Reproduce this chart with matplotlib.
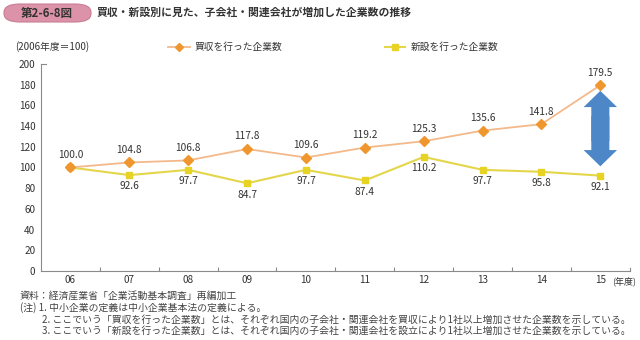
import matplotlib
matplotlib.use("Agg")
import matplotlib.pyplot as plt
from matplotlib.patches import FancyBboxPatch

plt.rcParams['font.family'] = ['Noto Sans CJK JP', 'DejaVu Sans']

years = ["06", "07", "08", "09", "10", "11", "12", "13", "14", "15"]
acquisition = [100.0, 104.8, 106.8, 117.8, 109.6, 119.2, 125.3, 135.6, 141.8, 179.5]
establishment = [100.0, 92.6, 97.7, 84.7, 97.7, 87.4, 110.2, 97.7, 95.8, 92.1]
y_ticks = [0, 20, 40, 60, 80, 100, 120, 140, 160, 180, 200]

series_names = ["買収を行った企業数", "新設を行った企業数"]
fig_label = "第2-6-8図"
title = "買収・新設別に見た、子会社・関連会社が増加した企業数の推移"
base_note = "(2006年度＝100)"
unit_note = "(年度)"
notes = [
    "資料：経済産業省「企業活動基本調査」再編加工",
    "(注) 1. 中小企業の定義は中小企業基本法の定義による。",
    "2. ここでいう「買収を行った企業数」とは、それぞれ国内の子会社・関連会社を買収により1社以上増加させた企業数を示している。",
    "3. ここでいう「新設を行った企業数」とは、それぞれ国内の子会社・関連会社を設立により1社以上増加させた企業数を示している。",
]
note_x = [20, 20, 42, 42]

orange_line = "#f3b98a"
orange_mark = "#f0962e"
yellow_line = "#e4d64a"
yellow_mark = "#e6d324"
text_col = "#333333"
note_col = "#444444"
axis_col = "#8a8a8a"

fig = plt.figure(figsize=(6.4, 3.4), dpi=100)
ax = fig.add_axes([0.064, 0.203, 0.92, 0.609])

x = list(range(len(years)))
ax.plot(x, acquisition, color=orange_line, lw=1.3, marker="D", ms=5,
        mfc=orange_mark, mec=orange_mark, zorder=3)
ax.plot(x, establishment, color=yellow_line, lw=1.5, marker="s", ms=5,
        mfc=yellow_mark, mec=yellow_mark, zorder=2)

for i, v in enumerate(acquisition):
    ax.annotate(f"{v:.1f}", (i, v), xytext=(0, 5.5), textcoords="offset points",
                ha="center", va="bottom", fontsize=7.3, color=text_col)
for i, v in enumerate(establishment):
    if i == 0:
        continue
    ax.annotate(f"{v:.1f}", (i, v), xytext=(0, -4.5), textcoords="offset points",
                ha="center", va="top", fontsize=7.3, color=text_col)

# double-headed gap arrow between the two series in the last year
last = len(years) - 1
top = acquisition[-1] - 5.5
bottom = establishment[-1] + 9
mid = (top + bottom) / 2
for end, start in ((top, mid - 12), (bottom, mid + 12)):
    ax.annotate("", xy=(last, end), xytext=(last, start),
                arrowprops=dict(arrowstyle="simple,head_length=0.9,head_width=1.85,tail_width=1.0",
                                mutation_scale=13, color="#4d87c7", shrinkA=0, shrinkB=0, lw=0),
                zorder=4)

ax.set_xlim(-0.5, len(years) - 0.5)
ax.set_ylim(0, 200)
ax.set_yticks(y_ticks)
ax.set_yticklabels([str(t) for t in y_ticks], fontsize=7.2, color=text_col)
ax.set_xticks([i + 0.5 for i in range(len(years) - 1)])
ax.set_xticklabels([])
ax.set_xticks(x, minor=True)
ax.set_xticklabels(years, minor=True, fontsize=7.2, color=text_col)
ax.tick_params(axis="x", which="major", direction="in", length=3, color=axis_col)
ax.tick_params(axis="x", which="minor", length=0, pad=3)
ax.tick_params(axis="y", direction="in", length=0, pad=4, color=axis_col)
for s in ("top", "right"):
    ax.spines[s].set_visible(False)
for s in ("left", "bottom"):
    ax.spines[s].set_color(axis_col)
    ax.spines[s].set_linewidth(0.8)
# small end ticks on the axis ends
ax.plot([1, 1], [0, 0.015], transform=ax.transAxes, color=axis_col, lw=0.8, clip_on=False)
ax.plot([0, 0.008], [1, 1], transform=ax.transAxes, color=axis_col, lw=0.8, clip_on=False)

fig.text(612 / 640, 1 - 281 / 340, unit_note, fontsize=6.5, color=text_col,
         ha="left", va="center")

# header
box = FancyBboxPatch((4 / 640, 1 - 22 / 340), 87 / 640, 18 / 340,
                     boxstyle="round,pad=0,rounding_size=0.025",
                     transform=fig.transFigure, facecolor="#dc93a9",
                     edgecolor="#c77c93", lw=0.8)
fig.patches.append(box)
fig.text(47 / 640, 1 - 13 / 340, fig_label, fontsize=8.3, fontweight="bold",
         color=text_col, ha="center", va="center")
fig.text(97 / 640, 1 - 13 / 340, title, fontsize=7.8, fontweight="bold",
         color=text_col, ha="left", va="center")

# legend and base note
ly = 1 - 47 / 340
fig.text(15 / 640, ly, base_note, fontsize=7, color=text_col,
         ha="left", va="center")
fig.add_artist(plt.Line2D([168 / 640, 190 / 640], [ly, ly], color=orange_line, lw=1.3))
fig.add_artist(plt.Line2D([179 / 640], [ly], marker="D", ms=4.5, color=orange_mark, lw=0))
fig.text(195 / 640, ly, series_names[0], fontsize=7, color=text_col, ha="left", va="center")
fig.add_artist(plt.Line2D([385 / 640, 405 / 640], [ly, ly], color=yellow_line, lw=1.5))
fig.add_artist(plt.Line2D([395 / 640], [ly], marker="s", ms=4.5, color=yellow_mark, lw=0))
fig.text(411 / 640, ly, series_names[1], fontsize=7, color=text_col, ha="left", va="center")

note_y = [296, 307.5, 319.5, 331]
for line, nx, ny in zip(notes, note_x, note_y):
    fig.text(nx / 640, 1 - ny / 340, line, fontsize=7.1,
             color=note_col, ha="left", va="center")

fig.savefig("out.png", dpi=100)
